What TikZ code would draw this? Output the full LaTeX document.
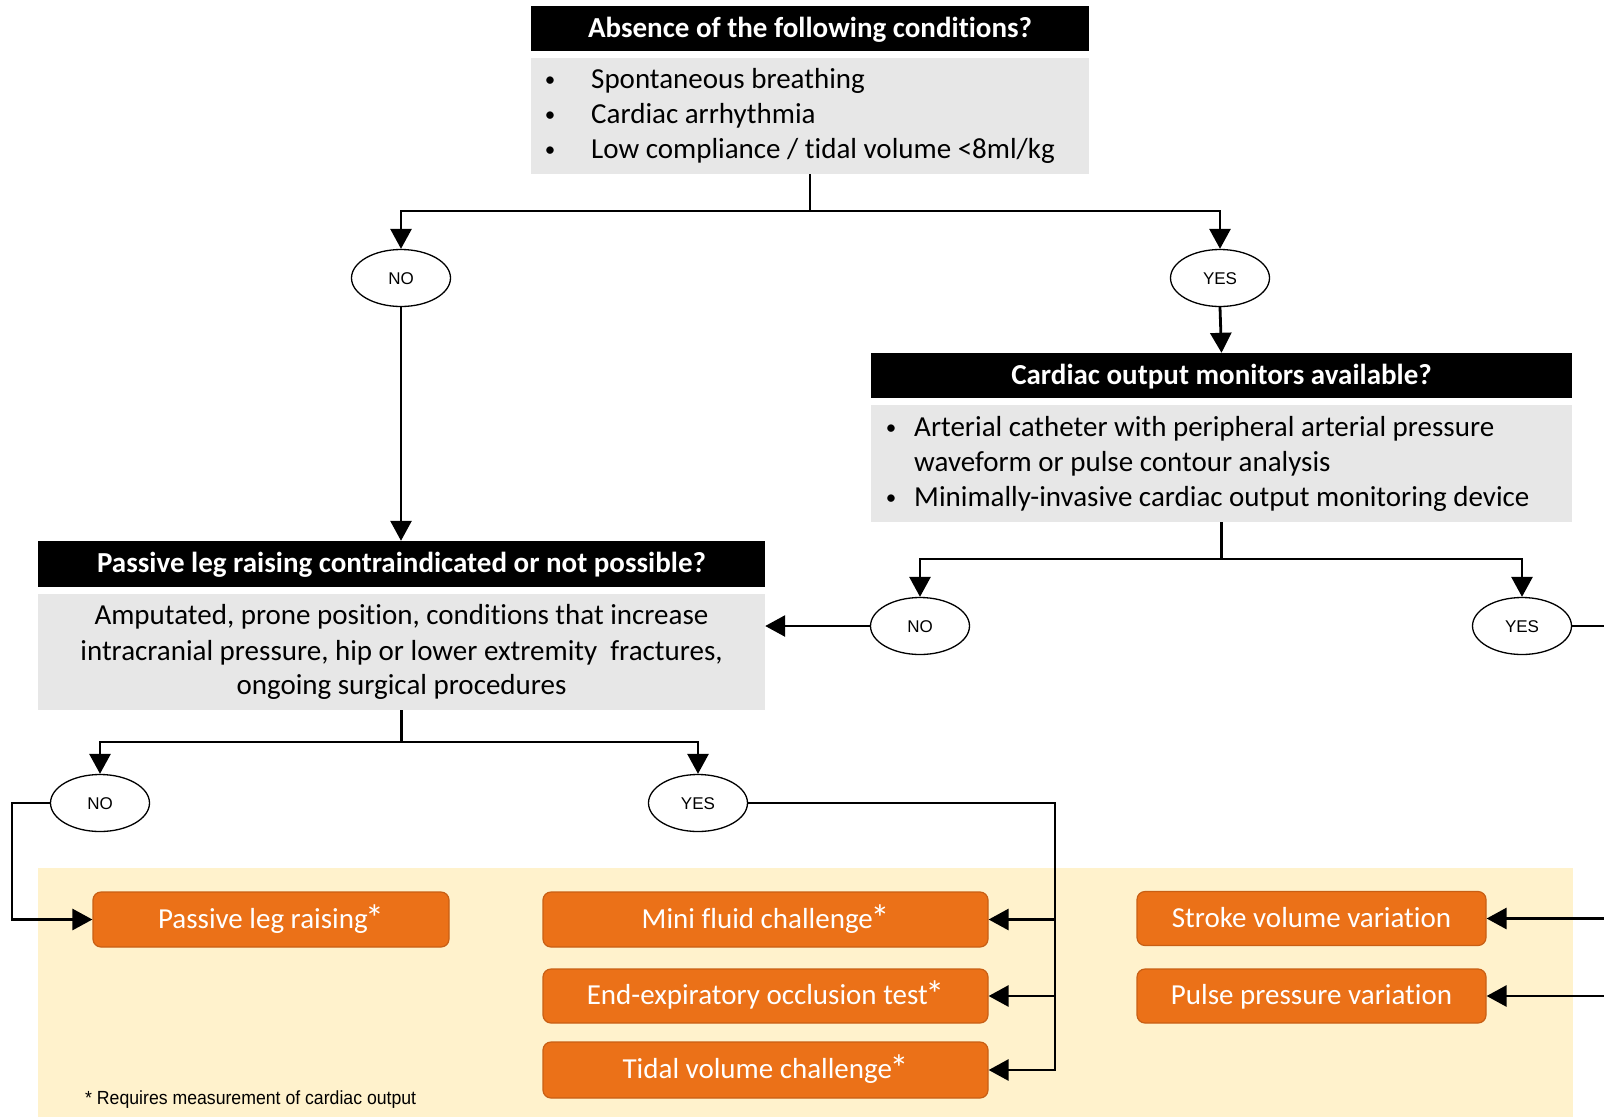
\documentclass[tikz,border=0pt]{standalone}
\usepackage{fontspec}
\setmainfont{Carlito}[Ligatures=NoCommon]
\newfontfamily\arialf{Liberation Sans}
\newfontfamily\arialn{Liberation Sans}[FakeStretch=0.93]
\usetikzlibrary{arrows.meta,shapes.geometric}
\definecolor{grayfill}{RGB}{231,231,231}
\definecolor{yel}{RGB}{255,242,204}
\definecolor{org}{RGB}{235,113,24}
\definecolor{orgd}{RGB}{200,95,20}
\newcommand\astr{\kern-2.5pt\raisebox{-3pt}{\scalebox{1.3}{*}}}
\begin{document}
\begin{tikzpicture}[x=1pt,y=-1pt,
 hdr/.style={fill=black,text=white,font=\fontsize{29}{35}\selectfont\bfseries,inner sep=0,text height=17.4pt,text depth=0pt},
 graybox/.style={fill=grayfill,inner sep=0},
 txt/.style={font=\fontsize{29}{35}\selectfont,anchor=base west,inner sep=0},
 ctxt/.style={font=\fontsize{29}{35}\selectfont,anchor=base,inner sep=0},
 bul/.style={font=\fontsize{21}{25}\selectfont,anchor=base,inner sep=0},
 oval/.style={ellipse,draw,line width=1.3pt,fill=white,minimum width=99,minimum height=57,inner sep=0,font=\arialf\fontsize{17}{20}\selectfont,text height=12.2pt,text depth=0pt},
 obox/.style={rounded corners=8pt,fill=org,draw=orgd,line width=1.2pt,text=white,font=\fontsize{29}{35}\selectfont,inner sep=0,text height=17.4pt,text depth=0pt},
 conn/.style={line width=2.8pt},
 arr/.style={conn,-{Triangle[length=20pt,width=21pt]}}
]
\useasboundingbox (0,0) rectangle (1604,1117);
\fill[yel] (38,868) rectangle (1573,1117);

% top question
\node[hdr,minimum width=558,minimum height=45] (h1) at (810,28.5) {Absence of the following conditions?};
\node[graybox,minimum width=558,minimum height=116] (g1) at (810,116) {};
\node[bul] (b11) at (550,86) {•};
\node[bul] (b12) at (550,121.5) {•};
\node[bul] (b13) at (550,156) {•};
\node[txt] (t11) at (591,88) {Spontaneous breathing};
\node[txt] (t12) at (591,123.5) {Cardiac arrhythmia};
\node[txt] (t13) at (591,158) {Low compliance / tidal volume <8ml/kg};

\node[oval] (no1) at (401,278) {NO};
\node[oval] (yes1) at (1220,278) {YES};

% cardiac output monitors
\node[hdr,minimum width=701,minimum height=45] (h2) at (1221.5,375.5) {Cardiac output monitors available?};
\node[graybox,minimum width=701,minimum height=117] (g2) at (1221.5,463.5) {};
\node[bul] (b21) at (891,434) {•};
\node[bul] (b22) at (891,504) {•};
\node[txt] (t21) at (914,436) {Arterial catheter with peripheral arterial pressure};
\node[txt] (t22) at (914,471) {waveform or pulse contour analysis};
\node[txt] (t23) at (914,506) {Minimally-invasive cardiac output monitoring device};

\node[oval] (no2) at (920,626) {NO};
\node[oval] (yes2) at (1522,626) {YES};

% passive leg raising
\node[hdr,minimum width=727,minimum height=46] (h3) at (401.5,564) {Passive leg raising contraindicated or not possible?};
\node[graybox,minimum width=727,minimum height=116] (g3) at (401.5,652) {};
\node[ctxt] (t31) at (401.5,624) {Amputated, prone position, conditions that increase};
\node[ctxt] (t32) at (401.5,660) {intracranial pressure, hip or lower extremity~ fractures,};
\node[ctxt] (t33) at (401.5,694) {ongoing surgical procedures};

\node[oval] (no3) at (100,803) {NO};
\node[oval] (yes3) at (698,803) {YES};

% orange boxes
\node[obox,minimum width=356,minimum height=55] (plr) at (271,919.5) {Passive leg raising\astr};
\node[obox,minimum width=445,minimum height=55] (mini) at (765.5,919.5) {Mini fluid challenge\astr};
\node[obox,minimum width=445,minimum height=54] (eeo) at (765.5,996) {End-expiratory occlusion test\astr};
\node[obox,minimum width=445,minimum height=56] (tidal) at (765.5,1070) {Tidal volume challenge\astr};
\node[obox,minimum width=349,minimum height=54] (svv) at (1311.5,918.5) {Stroke volume variation};
\node[obox,minimum width=349,minimum height=54] (ppv) at (1311.5,996) {Pulse pressure variation};

\node[anchor=base west,inner sep=0,font=\arialn\fontsize{19}{21}\selectfont] (fn) at (85,1104) {* Requires measurement of cardiac output};

% connectors
\coordinate (j1) at (810,211);
\draw[arr] (g1.south) -- (j1) -| (no1.north);
\draw[arr] (j1) -| (yes1.north);
\draw[arr] (yes1.south) -- (h2.north);
\draw[arr] (no1.south) -- (no1.south |- h3.north);

\coordinate (j2) at (1221.5,559);
\draw[arr] (g2.south) -- (j2) -| (no2.north);
\draw[arr] (j2) -| (yes2.north);
\draw[arr] (no2.west) -- (no2.west -| g3.east);
\coordinate (e1) at (1604,626);
\draw[conn] (yes2.east) -- (e1);

\coordinate (j3) at (401.5,742);
\draw[arr] (g3.south) -- (j3) -| (no3.north);
\draw[arr] (j3) -| (yes3.north);

\coordinate (k1) at (12,803);
\draw[arr] (no3.west) -- (k1) |- (plr.west);

\coordinate (k2) at (1055,803);
\draw[arr] (yes3.east) -- (k2) |- (tidal.east);
\draw[arr] (k2 |- mini.east) -- (mini.east);
\draw[arr] (k2 |- eeo.east) -- (eeo.east);

\coordinate (e2) at (1604,918.5);
\coordinate (e3) at (1604,996);
\draw[arr] (e2) -- (svv.east);
\draw[arr] (e3) -- (ppv.east);
\end{tikzpicture}
\end{document}
